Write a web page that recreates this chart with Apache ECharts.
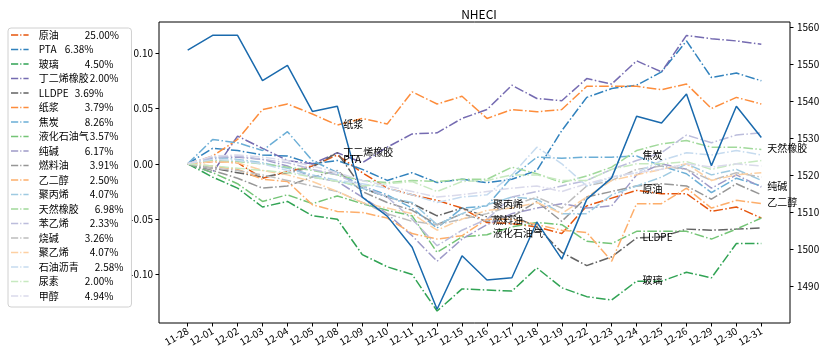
<!DOCTYPE html>
<html><head><meta charset="utf-8">
<script src="https://cdn.jsdelivr.net/npm/echarts@6/dist/echarts.min.js"></script>
<style>html,body{margin:0;padding:0;background:#fff}#c{width:825px;height:358px}</style>
</head><body><div id="c"></div>
<script>
// ---------- data ----------
const dates = ['11-28','12-01','12-02','12-03','12-04','12-05','12-08','12-09','12-10','12-11','12-12','12-15','12-16','12-17','12-18','12-19','12-22','12-23','12-24','12-25','12-26','12-29','12-30','12-31'];
const names = ['原油','PTA','玻璃','丁二烯橡胶','LLDPE','纸浆','焦炭','液化石油气','纯碱','燃料油','乙二醇','聚丙烯','天然橡胶','苯乙烯','烧碱','聚乙烯','石油沥青','尿素','甲醇'];
const weights = ['25.00%','6.38%','4.50%','2.00%','3.69%','3.79%','8.26%','3.57%','6.17%','3.91%','2.50%','4.07%','6.98%','2.33%','3.26%','4.07%','2.58%','2.00%','4.94%'];

const crude     = [0, 0.002, 0.001, -0.013, -0.007, -0.002, 0.008, -0.008, -0.022, -0.028, -0.033, -0.040, -0.053, -0.054, -0.057, -0.063, -0.038, -0.031, -0.024, -0.027, -0.027, -0.043, -0.039, -0.049];
const pta       = [0, 0.014, 0.012, 0.008, 0.007, 0.000, 0.003, -0.005, -0.015, -0.008, -0.017, -0.014, -0.017, -0.014, -0.006, 0.030, 0.060, 0.068, 0.071, 0.083, 0.111, 0.078, 0.082, 0.075];
const glass     = [0, -0.012, -0.022, -0.039, -0.034, -0.047, -0.050, -0.082, -0.093, -0.100, -0.133, -0.113, -0.114, -0.115, -0.094, -0.112, -0.120, -0.123, -0.106, -0.106, -0.098, -0.103, -0.072, -0.072];
const br        = [0, -0.008, 0.025, 0.014, 0.003, 0.000, 0.010, 0.001, 0.015, 0.027, 0.028, 0.041, 0.049, 0.071, 0.059, 0.057, 0.077, 0.072, 0.093, 0.083, 0.116, 0.113, 0.111, 0.108];
const lldpe     = [0, -0.004, -0.008, -0.012, -0.008, -0.003, 0.010, -0.022, -0.030, -0.036, -0.047, -0.040, -0.048, -0.047, -0.057, -0.080, -0.092, -0.084, -0.067, -0.066, -0.059, -0.060, -0.059, -0.058];
const pulp      = [0, 0.007, 0.022, 0.049, 0.054, 0.045, 0.035, 0.041, 0.036, 0.065, 0.054, 0.061, 0.041, 0.049, 0.047, 0.049, 0.070, 0.070, 0.070, 0.067, 0.072, 0.050, 0.060, 0.054];
const coke      = [0, 0.022, 0.019, 0.012, 0.029, 0.003, -0.008, -0.020, -0.028, -0.040, -0.058, -0.040, -0.038, -0.012, 0.006, 0.005, 0.006, 0.006, 0.007, -0.002, -0.009, -0.026, -0.013, -0.020];
const lpg       = [0, -0.008, -0.018, -0.034, -0.028, -0.036, -0.029, -0.036, -0.042, -0.047, -0.080, -0.066, -0.064, -0.057, -0.053, -0.055, -0.070, -0.072, -0.061, -0.061, -0.061, -0.068, -0.059, -0.049];
const soda      = [0, 0.005, 0.006, 0.004, -0.002, -0.012, -0.016, -0.030, -0.045, -0.065, -0.088, -0.068, -0.055, -0.045, -0.040, -0.036, -0.040, -0.038, -0.010, 0.000, -0.005, -0.022, -0.010, -0.021];
const fuelOil   = [0, -0.006, -0.013, -0.022, -0.020, -0.012, -0.006, -0.025, -0.035, -0.042, -0.055, -0.045, -0.052, -0.048, -0.034, -0.052, -0.030, -0.025, -0.020, -0.018, -0.020, -0.032, -0.018, -0.028];
const eg        = [0, -0.002, -0.005, -0.014, -0.016, -0.037, -0.043, -0.044, -0.049, -0.063, -0.068, -0.065, -0.050, -0.050, -0.055, -0.060, -0.062, -0.088, -0.036, -0.036, -0.022, -0.040, -0.033, -0.036];
const pp        = [0, 0.006, 0.004, 0.001, -0.004, -0.010, -0.015, -0.022, -0.030, -0.035, -0.055, -0.045, -0.037, -0.030, -0.032, -0.045, -0.045, -0.028, -0.020, -0.012, 0.000, -0.010, -0.005, -0.015];
const rubber    = [0, 0.003, 0.002, 0.000, -0.003, -0.006, -0.010, -0.015, -0.017, -0.015, -0.016, -0.014, -0.014, -0.003, -0.009, -0.017, -0.011, -0.003, 0.012, 0.018, 0.021, 0.015, 0.015, 0.013];
const styrene   = [0, 0.006, 0.007, 0.004, 0.001, -0.005, -0.010, -0.020, -0.030, -0.050, -0.074, -0.060, -0.050, -0.030, -0.025, -0.020, -0.015, -0.005, 0.003, 0.010, 0.026, 0.019, 0.026, 0.028];
const caustic   = [0, -0.004, -0.006, -0.010, -0.015, -0.020, -0.025, -0.035, -0.045, -0.052, -0.055, -0.050, -0.045, -0.038, -0.030, -0.040, -0.020, -0.015, -0.005, -0.002, -0.005, -0.015, -0.008, -0.012];
const pe        = [0, 0.002, 0.001, -0.006, -0.010, -0.016, -0.025, -0.035, -0.040, -0.045, -0.060, -0.050, -0.042, -0.040, -0.035, -0.045, -0.030, -0.015, -0.010, -0.005, 0.000, -0.015, -0.010, -0.008];
const bitumen   = [0, 0.004, 0.003, 0.000, -0.006, -0.012, -0.015, -0.018, -0.022, -0.028, -0.035, -0.030, -0.028, -0.010, 0.015, 0.000, -0.020, -0.012, -0.008, 0.003, 0.010, 0.008, 0.012, 0.008];
const urea      = [0, -0.002, -0.004, -0.006, -0.008, -0.012, -0.016, -0.020, -0.018, -0.016, -0.025, -0.016, -0.015, -0.010, -0.010, -0.015, -0.015, -0.005, 0.000, 0.000, 0.002, -0.005, 0.000, 0.003];
const methanol  = [0, 0.007, 0.008, 0.006, 0.003, -0.002, -0.008, -0.015, -0.020, -0.025, -0.030, -0.028, -0.025, -0.022, -0.020, -0.025, -0.018, -0.012, -0.008, -0.005, 0.000, -0.003, 0.000, -0.002];

const nheci = [1553.7, 1557.7, 1557.7, 1545.5, 1549.6, 1537.2, 1538.6, 1514.1, 1509.0, 1500.6, 1483.9, 1498.3, 1491.8, 1492.4, 1507.4, 1497.4, 1513.5, 1519.3, 1535.9, 1534.1, 1541.9, 1522.6, 1538.6, 1530.2];

const seriesValues = [crude, pta, glass, br, lldpe, pulp, coke, lpg, soda, fuelOil, eg, pp, rubber, styrene, caustic, pe, bitumen, urea, methanol];

// text annotations: [series name, date index]
const annotations = [['纸浆',6],['丁二烯橡胶',6],['PTA',6],['聚丙烯',12],['燃料油',12],['液化石油气',12],['焦炭',18],['原油',18],['LLDPE',18],['玻璃',18],['天然橡胶',23],['纯碱',23],['乙二醇',23]];

const leftTicks = [-0.10, -0.05, 0.00, 0.05, 0.10];
const rightTicks = [1490, 1500, 1510, 1520, 1530, 1540, 1550, 1560];

// ---------- styles ----------
const colors = ['#e6550d','#3182bd','#31a354','#756bb1','#636363','#fd8d3c','#6baed6','#74c476','#9e9ac8','#969696','#fdae6b','#9ecae1','#a1d99b','#bcbddc','#bdbdbd','#fdd0a2','#c6dbef','#c7e9c0','#dadaeb'];
const legendPctX = [87,67,87,92,77,87,87,92,87,92,92,92,97,92,87,92,97,87,87];
const FONT = '"Noto Sans CJK SC", "DejaVu Sans", sans-serif';
const dash = [9.6, 2.4, 1.5, 2.4];
const legendIcon = 'path://M0,0H9V2H0Z M11.5,0H13V2H11.5Z M15.5,0H22V2H15.5Z';

const rich = {};
names.forEach((n, i) => {
  rich['n' + i] = {width: legendPctX[i] - 41, padding: [0,0,0,3], fontSize: 10, fontFamily: FONT, color: '#000', lineHeight: 12};
  rich['p' + i] = {width: 79 - (legendPctX[i] - 41), fontSize: 10, fontFamily: FONT, color: '#000', lineHeight: 12};
});

const series = names.map((name, si) => {
  const ann = annotations.find(a => a[0] === name);
  return {
    name, type: 'line', yAxisIndex: 0, showSymbol: true, symbol: 'circle', symbolSize: 0,
    lineStyle: {color: colors[si], width: 1.5, type: dash},
    itemStyle: {color: colors[si]},
    label: {show: false},
    data: seriesValues[si].map((v, i) => (ann && ann[1] === i)
      ? {value: [i, v], label: {show: true, formatter: name, position: 'right', distance: 6, offset: [0, -1], color: '#000', fontSize: 10, fontFamily: FONT}}
      : [i, v]),
    emphasis: {disabled: true}
  };
});
series.push({
  name: 'NHECI', type: 'line', yAxisIndex: 1, showSymbol: false, symbol: 'none',
  lineStyle: {color: '#1a6aad', width: 1.5},
  data: nheci.map((v, i) => [i, v]), emphasis: {disabled: true}, z: 3
});

const axisText = {fontSize: 10, fontFamily: FONT, color: '#000'};
const option = {
  animation: false,
  title: {text: 'NHECI', left: 474, top: 3, textAlign: 'center', textStyle: {fontSize: 12, fontWeight: 'normal', fontFamily: FONT, color: '#000'}},
  legend: {
    data: names, orient: 'vertical', left: 8, top: 28, padding: [1, 8, 5, 3],
    icon: legendIcon, itemWidth: 22, itemHeight: 1.6, itemGap: 2.5,
    borderColor: '#d0d0d0', borderWidth: 1, borderRadius: 3, backgroundColor: '#fff',
    formatter: name => { const i = names.indexOf(name); return '{n' + i + '|' + name + '}{p' + i + '|' + weights[i] + '}'; },
    textStyle: {fontSize: 10, fontFamily: FONT, color: '#000', lineHeight: 12, rich}
  },
  grid: {left: 159, right: 35, top: 22, bottom: 35, show: true, borderColor: '#000', borderWidth: 1, backgroundColor: 'transparent'},
  xAxis: {
    type: 'value', min: -1.15, max: 24.15,
    axisLine: {show: false, onZero: false},
    splitLine: {show: false},
    axisTick: {show: true, length: 3.5, lineStyle: {color: '#000'}, customValues: dates.map((d, i) => i)},
    axisLabel: Object.assign({rotate: 30, margin: 7, customValues: dates.map((d, i) => i), formatter: v => dates[Math.round(v)]}, axisText)
  },
  yAxis: [{
    type: 'value', min: -0.1438, max: 0.1281, position: 'left',
    axisLine: {show: false, onZero: false}, splitLine: {show: false},
    axisTick: {show: true, length: 3.5, lineStyle: {color: '#000'}, customValues: leftTicks},
    axisLabel: Object.assign({margin: 6, customValues: leftTicks, formatter: v => v.toFixed(2)}, axisText)
  }, {
    type: 'value', min: 1480.2, max: 1561.3, position: 'right',
    axisLine: {show: false, onZero: false}, splitLine: {show: false},
    axisTick: {show: true, length: 3.5, lineStyle: {color: '#000'}, customValues: rightTicks},
    axisLabel: Object.assign({margin: 7, customValues: rightTicks, formatter: v => String(Math.round(v))}, axisText)
  }],
  series
};
const chart = echarts.init(document.getElementById('c'), null, {renderer: 'canvas'});
chart.setOption(option);
</script></body></html>
